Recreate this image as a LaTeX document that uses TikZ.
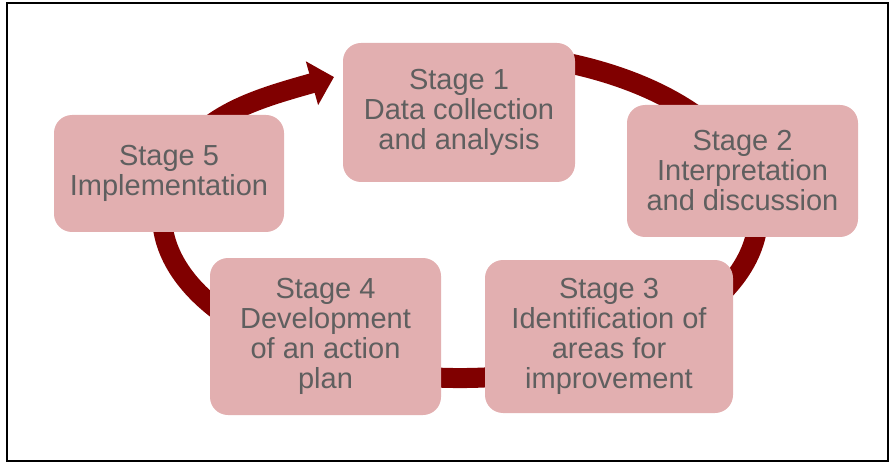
\documentclass[tikz,border=0pt]{standalone}
\usepackage{fontspec}
\setmainfont{Liberation Sans}
\usetikzlibrary{arrows.meta,bending}
\definecolor{ringred}{RGB}{128,0,0}
\definecolor{stagefill}{RGB}{226,175,176}
\definecolor{stagetext}{RGB}{95,95,95}
\tikzstyle{stage}=[fill=stagefill, rounded corners=18pt, inner sep=0pt,
    align=center, text=stagetext, font=\fontsize{29}{30}\selectfont]
\tikzstyle{ring}=[draw=ringred, line width=20pt,
    -{Triangle[length=23pt,width=44pt,bend]}]

\begin{document}
\begin{tikzpicture}[x=1pt,y=1pt]
    \useasboundingbox (0,0) rectangle (891,464);
    \draw[line width=2pt] (6.5,3.5) rectangle (887.5,460.5);
    \coordinate (ctr) at (460,249);
    \coordinate (tip) at (334,387);
    \coordinate (tail) at ([shift={(70:298pt and 163pt)}]ctr);
    \draw[ring] (tail) arc[start angle=70, end angle=-190,
        x radius=298pt, y radius=163pt] to[out=72,in=196] (tip);
    \node (st1) at (459,351.5) [stage, minimum width=232pt, minimum height=139pt]
        {Stage 1\\Data collection\\and analysis};
    \path (st1)+(283.5,-58.5) node (st2) [stage, minimum width=231pt,
        minimum height=132pt] {Stage 2\\Interpretation\\and discussion};
    \path (st1)+(150,-224) node (st3) [stage, minimum width=248pt,
        minimum height=153pt] {Stage 3\\Identification of\\areas for\\improvement};
    \path (st1)+(-133.5,-224) node (st4) [stage, minimum width=231pt,
        minimum height=157pt] {Stage 4\\Development\\of an action\\plan};
    \path (st1)+(-290,-61) node (st5) [stage, minimum width=230pt,
        minimum height=117pt] {Stage 5\\Implementation};
\end{tikzpicture}
\end{document}
